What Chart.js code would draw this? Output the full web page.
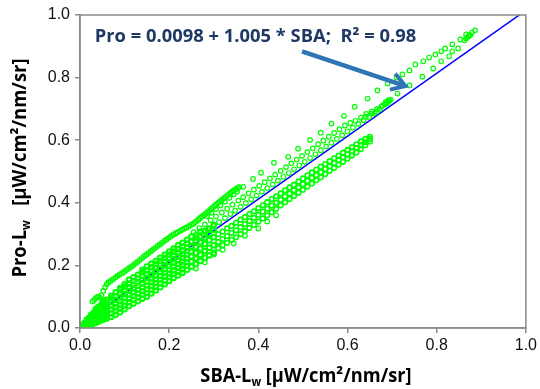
<!DOCTYPE html>
<html>
<head>
<meta charset="utf-8">
<script src="https://cdn.jsdelivr.net/npm/chart.js@4.4.1/dist/chart.umd.min.js"></script>
<style>
  html, body { margin: 0; padding: 0; background: #fff; }
  #wrap { width: 540px; height: 389px; position: relative; }
</style>
</head>
<body>
<div id="wrap"><canvas id="graf"></canvas></div>
<script>
// --- tick labels / fit
const tickValues = [0.0, 0.2, 0.4, 0.6, 0.8, 1.0];
const fitIntercept = 0.0098;
const fitSlope = 1.005;
const fitText = 'Pro = 0.0098 + 1.005 * SBA;  R\u00B2 = 0.98';

// --- dense cloud near origin, by column: [x, [y, y, ...]]
const cloudCols = [
  [0.005, [0.000, 0.008]],
  [0.010, [0.004, 0.016]],
  [0.015, [0.006, 0.018, 0.026]],
  [0.020, [0.008, 0.020, 0.032]],
  [0.025, [0.010, 0.022, 0.034, 0.042]],
  [0.030, [0.014, 0.026, 0.038, 0.048]],
  [0.035, [0.016, 0.028, 0.040, 0.052, 0.060]],
  [0.040, [0.020, 0.032, 0.044, 0.056, 0.066]],
  [0.045, [0.022, 0.034, 0.046, 0.058, 0.070]],
  [0.050, [0.026, 0.038, 0.050, 0.062, 0.074, 0.080]],
  [0.055, [0.028, 0.040, 0.052, 0.064, 0.076, 0.086]],
  [0.060, [0.030, 0.042, 0.054, 0.066, 0.078, 0.090]],
  [0.070, [0.035, 0.047, 0.059, 0.071, 0.083, 0.095, 0.103]],
  [0.080, [0.042, 0.054, 0.066, 0.078, 0.090, 0.102, 0.114]],
  [0.090, [0.050, 0.062, 0.074, 0.086, 0.098, 0.110, 0.122, 0.128]],
  [0.100, [0.060, 0.072, 0.084, 0.096, 0.108, 0.120, 0.132, 0.140]],
  [0.110, [0.070, 0.082, 0.094, 0.106, 0.118, 0.130, 0.142, 0.154]],
  [0.120, [0.078, 0.090, 0.102, 0.114, 0.126, 0.138, 0.150, 0.162]],
  [0.130, [0.086, 0.098, 0.110, 0.122, 0.134, 0.146, 0.158, 0.170]],
  [0.140, [0.094, 0.106, 0.118, 0.130, 0.142, 0.154, 0.166, 0.178, 0.186]],
  [0.150, [0.100, 0.112, 0.124, 0.136, 0.148, 0.160, 0.172, 0.184, 0.196]],
  [0.160, [0.110, 0.122, 0.134, 0.146, 0.158, 0.170, 0.182, 0.194, 0.205]],
  [0.170, [0.120, 0.132, 0.144, 0.156, 0.168, 0.180, 0.192, 0.204, 0.214]],
  [0.180, [0.130, 0.142, 0.154, 0.166, 0.178, 0.190, 0.202, 0.214, 0.224]],
  [0.190, [0.140, 0.152, 0.164, 0.176, 0.188, 0.200, 0.212, 0.224, 0.234]],
  [0.200, [0.150, 0.162, 0.174, 0.186, 0.198, 0.210, 0.222, 0.234, 0.244]],
  [0.210, [0.160, 0.172, 0.184, 0.196, 0.208, 0.220, 0.232, 0.244, 0.254]],
  [0.220, [0.168, 0.180, 0.192, 0.204, 0.216, 0.228, 0.240, 0.252, 0.264]],
  [0.230, [0.176, 0.188, 0.200, 0.212, 0.224, 0.236, 0.248, 0.260, 0.272]],
  [0.240, [0.186, 0.198, 0.210, 0.222, 0.234, 0.246, 0.258, 0.270, 0.282]],
  [0.250, [0.196, 0.212, 0.228, 0.244, 0.260, 0.276, 0.292]],
  [0.260, [0.204, 0.222, 0.240, 0.258, 0.276, 0.296]],
  [0.270, [0.214, 0.234, 0.254, 0.274, 0.292, 0.308]],
  [0.280, [0.224, 0.246, 0.268, 0.288, 0.310]],
  [0.290, [0.232, 0.256, 0.280, 0.300, 0.318]],
  [0.300, [0.240, 0.264, 0.290, 0.314, 0.330]]
];

// --- upper curved arm (hook near 0.03, then up to ~0.36)
const curveArm = [
  [0.028,0.085],[0.032,0.090],[0.036,0.096],[0.040,0.100],[0.044,0.098],[0.048,0.104],
  [0.052,0.118],[0.056,0.130],[0.060,0.140],[0.064,0.146],[0.069,0.150],[0.074,0.156],
  [0.079,0.161],[0.084,0.166],[0.089,0.171],[0.094,0.175],[0.099,0.180],[0.104,0.185],
  [0.109,0.190],[0.114,0.195],[0.119,0.200],[0.124,0.206],[0.129,0.211],[0.134,0.217],
  [0.139,0.223],[0.144,0.229],[0.149,0.234],[0.154,0.240],[0.159,0.245],[0.164,0.251],
  [0.169,0.256],[0.174,0.262],[0.179,0.267],[0.184,0.272],[0.189,0.278],[0.194,0.283],
  [0.199,0.288],[0.204,0.293],[0.209,0.298],[0.214,0.302],[0.219,0.306],[0.224,0.310],
  [0.229,0.314],[0.234,0.318],[0.239,0.321],[0.244,0.325],[0.249,0.329],[0.254,0.333],
  [0.258,0.338],[0.262,0.342],[0.266,0.347],[0.270,0.352],[0.274,0.356],[0.278,0.361],
  [0.282,0.365],[0.286,0.370],[0.290,0.375],[0.294,0.380],[0.298,0.385],[0.302,0.390],
  [0.306,0.395],[0.310,0.400],[0.314,0.404],[0.318,0.409],[0.322,0.414],[0.326,0.418],
  [0.330,0.423],[0.334,0.427],[0.338,0.432],[0.342,0.436],[0.346,0.440],[0.350,0.444],
  [0.354,0.448],[0.357,0.450],
  [0.285,0.357],[0.295,0.368],[0.305,0.380],[0.315,0.392],[0.325,0.404],[0.335,0.416],
  [0.345,0.427],[0.352,0.436]
];

// --- lower branch, by column: [x, [low, mid, high]]
const lowerBranch = [
  [0.31, [0.255, 0.275, 0.300]], [0.32, [0.264, 0.284, 0.308]], [0.33, [0.272, 0.294, 0.318]],
  [0.34, [0.282, 0.304, 0.326]], [0.35, [0.290, 0.312, 0.336]], [0.36, [0.300, 0.322, 0.346]],
  [0.37, [0.310, 0.332, 0.354]], [0.38, [0.320, 0.342, 0.364]], [0.39, [0.330, 0.352, 0.373]],
  [0.40, [0.340, 0.362, 0.383]], [0.41, [0.350, 0.372, 0.392]], [0.42, [0.360, 0.381, 0.402]],
  [0.43, [0.370, 0.391, 0.412]], [0.44, [0.380, 0.400, 0.421]], [0.45, [0.392, 0.410, 0.430]],
  [0.46, [0.402, 0.420, 0.440]], [0.47, [0.412, 0.430, 0.449]], [0.48, [0.422, 0.440, 0.458]],
  [0.49, [0.432, 0.450, 0.468]], [0.50, [0.442, 0.460, 0.478]], [0.51, [0.452, 0.470, 0.488]],
  [0.52, [0.462, 0.480, 0.497]], [0.53, [0.472, 0.489, 0.506]], [0.54, [0.482, 0.498, 0.515]],
  [0.55, [0.492, 0.508, 0.524]], [0.56, [0.502, 0.517, 0.533]], [0.57, [0.512, 0.527, 0.542]],
  [0.58, [0.522, 0.536, 0.551]], [0.59, [0.531, 0.546, 0.560]], [0.60, [0.541, 0.555, 0.569]],
  [0.61, [0.551, 0.565, 0.578]], [0.62, [0.561, 0.575, 0.587]], [0.63, [0.572, 0.584, 0.596]],
  [0.64, [0.584, 0.594, 0.604]], [0.65, [0.596, 0.604, 0.611]]
];
const lowerStray = [
  [0.26,0.190],[0.28,0.210],[0.30,0.235],[0.32,0.250],[0.345,0.270],[0.37,0.295],
  [0.40,0.318],[0.42,0.340],[0.44,0.360]
];

// --- strand just above the 1:1 line
const nearLine = [
  [0.250,0.276],[0.255,0.306],[0.262,0.288],[0.268,0.319],[0.275,0.301],[0.280,0.331],
  [0.287,0.313],[0.293,0.344],[0.300,0.326],[0.305,0.356],[0.312,0.338],[0.318,0.369],
  [0.325,0.351],[0.330,0.381],[0.337,0.364],[0.342,0.394],[0.348,0.375],[0.355,0.407],
  [0.360,0.387],[0.366,0.418],[0.372,0.399],[0.378,0.430],[0.384,0.411],[0.390,0.442],
  [0.396,0.423],[0.402,0.454],[0.408,0.435],[0.414,0.466],[0.420,0.447],[0.426,0.478],
  [0.432,0.459],[0.438,0.490],[0.444,0.471],[0.450,0.502],[0.456,0.483],[0.462,0.514],
  [0.468,0.495],[0.474,0.526],[0.480,0.507],[0.486,0.538],[0.492,0.519],[0.498,0.550],
  [0.504,0.531],[0.510,0.562],[0.516,0.543],[0.522,0.574],[0.528,0.555],[0.534,0.587],
  [0.540,0.568],[0.546,0.599],[0.552,0.580],[0.558,0.611],[0.564,0.592],[0.570,0.623],
  [0.576,0.604],[0.582,0.635],[0.588,0.616],[0.594,0.647],[0.600,0.628],[0.606,0.655],
  [0.612,0.640],[0.618,0.662],[0.624,0.652],[0.630,0.672],[0.636,0.664],[0.642,0.684],
  [0.648,0.674],[0.654,0.692],[0.660,0.686],[0.666,0.700],[0.672,0.699],[0.678,0.710],
  [0.684,0.714],[0.688,0.718],[0.691,0.722],[0.694,0.726],[0.697,0.729],[0.686,0.722],
  [0.692,0.728]
];

// --- sparse upper diagonal
const upperSparse = [
  [0.366,0.451],[0.388,0.476],[0.406,0.496],[0.435,0.528],[0.467,0.547],[0.489,0.573],
  [0.516,0.601],[0.540,0.624],[0.564,0.653],[0.592,0.678],[0.616,0.707],[0.645,0.733],
  [0.667,0.759],[0.690,0.781],[0.710,0.800],[0.723,0.810],[0.739,0.823],[0.752,0.842],
  [0.770,0.852],[0.783,0.864],[0.797,0.874],[0.810,0.884],[0.819,0.893],[0.835,0.906],
  [0.853,0.922],[0.866,0.938]
];

// --- high-end tail next to the line
const tailPts = [
  [0.641,0.675],[0.654,0.685],[0.665,0.691],[0.676,0.707],[0.712,0.749],[0.739,0.775],
  [0.768,0.803],[0.792,0.829],[0.810,0.852],[0.828,0.868],[0.835,0.884],[0.848,0.893],
  [0.862,0.919],[0.866,0.925],[0.871,0.932],[0.875,0.936],[0.879,0.944],[0.886,0.951],
  [0.868,0.928],[0.873,0.934]
];

const axisColor = '#8a8a8a';
const tickFont = { family: '"Liberation Sans", Arial, sans-serif', size: 16 };
const titleFamily = '"Open Sans", "Liberation Sans", sans-serif';

function fromCols(cols) {
  const out = [];
  cols.forEach(([x, ys]) => ys.forEach(y => out.push({ x: x, y: y })));
  return out;
}
function fromPairs(arr) {
  return arr.map(([x, y]) => ({ x: x, y: y }));
}

function pontos(data, bw) {
  return {
    type: 'scatter',
    data: data,
    pointStyle: 'circle',
    pointRadius: 2.3,
    borderWidth: bw || 1.2,
    borderColor: '#00ff00',
    backgroundColor: 'rgba(0,0,0,0)',
    order: 1
  };
}

// text with subscript parts, drawn on canvas, centred on the origin
function drawRich(ctx, parts, size, color, sx) {
  let total = 0;
  parts.forEach(([t, sub]) => {
    ctx.font = `bold ${sub ? size * 0.62 : size}px ${titleFamily}`;
    total += ctx.measureText(t).width;
  });
  ctx.save();
  ctx.scale(sx, 1);
  ctx.fillStyle = color;
  ctx.textBaseline = 'alphabetic';
  ctx.textAlign = 'left';
  let cx = -total / 2;
  parts.forEach(([t, sub]) => {
    ctx.font = `bold ${sub ? size * 0.62 : size}px ${titleFamily}`;
    ctx.fillText(t, cx, sub ? size * 0.2 : 0);
    cx += ctx.measureText(t).width;
  });
  ctx.restore();
}

const decor = {
  id: 'decor',
  afterDraw(chart) {
    const { ctx, chartArea: a, scales: { x, y } } = chart;
    ctx.save();
    ctx.strokeStyle = axisColor;
    ctx.lineWidth = 1.5;
    ctx.strokeRect(a.left, a.top, a.right - a.left, a.bottom - a.top);

    // equation
    ctx.fillStyle = '#1f3864';
    ctx.font = `bold 18px ${titleFamily}`;
    ctx.textBaseline = 'alphabetic';
    ctx.save();
    ctx.translate(x.getPixelForValue(0.033), y.getPixelForValue(0.914));
    ctx.scale(1.02, 1);
    ctx.fillText(fitText, 0, 0);
    ctx.restore();

    // arrow
    const x0 = x.getPixelForValue(0.498), y0 = y.getPixelForValue(0.884);
    const x1 = x.getPixelForValue(0.730), y1 = y.getPixelForValue(0.773);
    const ang = Math.atan2(y1 - y0, x1 - x0);
    ctx.strokeStyle = '#2e75b6';
    ctx.lineWidth = 4.5;
    ctx.lineCap = 'butt';
    ctx.beginPath();
    ctx.moveTo(x0, y0);
    ctx.lineTo(x1 - 3 * Math.cos(ang), y1 - 3 * Math.sin(ang));
    ctx.stroke();
    ctx.lineJoin = 'miter';
    ctx.lineWidth = 4;
    ctx.beginPath();
    ctx.moveTo(x1 - 16 * Math.cos(ang - 0.55), y1 - 16 * Math.sin(ang - 0.55));
    ctx.lineTo(x1, y1);
    ctx.lineTo(x1 - 16 * Math.cos(ang + 0.55), y1 - 16 * Math.sin(ang + 0.55));
    ctx.stroke();

    // axis titles
    ctx.save();
    ctx.translate(306, 382);
    drawRich(ctx, [['SBA-L'], ['w', true], [' [\u00B5W/cm\u00B2/nm/sr]']], 19, '#000', 0.96);
    ctx.restore();
    ctx.save();
    ctx.translate(26, 168);
    ctx.rotate(-Math.PI / 2);
    drawRich(ctx, [['Pro-L'], ['w', true], ['   [\u00B5W/cm\u00B2/nm/sr]']], 19, '#000', 0.97);
    ctx.restore();
    ctx.restore();
  }
};

function eixo(side) {
  return {
    type: 'linear',
    min: 0,
    max: 1,
    afterBuildTicks: s => { s.ticks = tickValues.map(v => ({ value: v })); },
    afterFit: s => { if (side === 'x') s.height = 61; else s.width = 80; },
    ticks: {
      font: tickFont,
      color: '#111',
      padding: side === 'x' ? 3 : 5,
      callback: v => Number(v).toFixed(1)
    },
    grid: { drawOnChartArea: false, drawTicks: true, tickLength: 5, color: axisColor, lineWidth: 1.5 },
    border: { display: true, color: axisColor, width: 1.5 }
  };
}

new Chart(document.getElementById('graf'), {
  type: 'scatter',
  data: {
    datasets: [
      pontos(fromCols(cloudCols), 2),
      pontos(fromPairs(curveArm), 1.3),
      pontos(fromCols(lowerBranch), 1.6),
      pontos(fromPairs(lowerStray)),
      pontos(fromPairs(nearLine)),
      pontos(fromPairs(upperSparse)),
      pontos(fromPairs(tailPts)),
      {
        type: 'line',
        data: [{ x: 0, y: fitIntercept }, { x: 1, y: fitIntercept + fitSlope }],
        borderColor: '#0000ff',
        borderWidth: 1.5,
        pointRadius: 0,
        fill: false,
        order: 5
      }
    ]
  },
  options: {
    responsive: true,
    maintainAspectRatio: false,
    animation: false,
    layout: { padding: { top: 15, right: 12, left: 0, bottom: 0 } },
    plugins: { legend: { display: false }, tooltip: { enabled: false } },
    scales: { x: eixo('x'), y: eixo('y') }
  },
  plugins: [decor]
});
</script>
</body>
</html>
